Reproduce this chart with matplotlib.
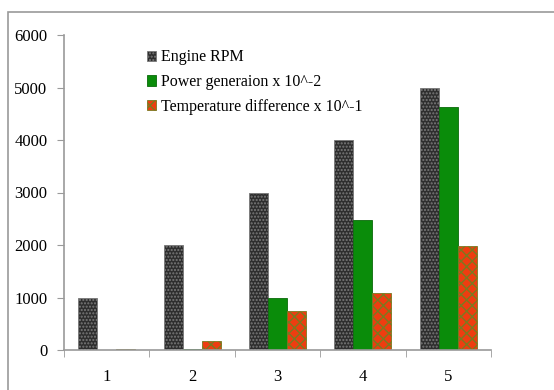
import numpy as np
import matplotlib.pyplot as plt
from matplotlib.patches import Rectangle

categories = ['1', '2', '3', '4', '5']
engine_rpm = [1000, 2000, 3000, 4000, 5000]
power_gen = [0, 20, 990, 2480, 4620]
temp_diff = [25, 175, 750, 1090, 1990]
labels = ['Engine RPM', 'Power generaion x 10^-2', 'Temperature difference x 10^-1']

plt.rcParams['font.family'] = ['Liberation Serif', 'DejaVu Serif']
plt.rcParams['hatch.linewidth'] = 1.0

fig = plt.figure(figsize=(5.54, 3.90), dpi=100)
ax = fig.add_axes([64 / 554, 1 - 350 / 390, 427 / 554, 315 / 390])

# frame round the whole chart (right and bottom edges fall outside the picture)
fig.patches.append(Rectangle((8 / 554, -0.1), 1.2, 1.1 - 12 / 390, transform=fig.transFigure,
                             fill=False, edgecolor='#9a9a9a', linewidth=1.2))

x = np.arange(len(categories))
w = 0.222
b1 = ax.bar(x - w, engine_rpm, w, color='#2e2e2e', edgecolor='#7a7a7a', hatch='.....',
            linewidth=0.6, label=labels[0])
b2 = ax.bar(x, power_gen, w, color='#0a8c0a', edgecolor='#0a6a0a',
            linewidth=0.6, label=labels[1])
b3 = ax.bar(x + w, temp_diff, w, color='#ee3d10', edgecolor='#7a7a20', hatch='xxx',
            linewidth=0.6, label=labels[2])

ax.set_xlim(-0.5, len(categories) - 0.5)
ax.set_ylim(0, 6000)
ax.set_yticks(range(0, 6001, 1000))
ax.set_xticks(x)
ax.set_xticklabels(categories)
ax.set_xticks(np.arange(-0.5, len(categories)), minor=True)
ax.tick_params(axis='x', which='major', length=0, pad=14, labelsize=12)
ax.tick_params(axis='x', which='minor', length=5, color='#9a9a9a', direction='out')
ax.tick_params(axis='y', length=5, color='#9a9a9a', labelsize=12, pad=7)

for s in ['top', 'right']:
    ax.spines[s].set_visible(False)
for s in ['left', 'bottom']:
    ax.spines[s].set_color('#9a9a9a')
    ax.spines[s].set_linewidth(1.2)

ax.legend(loc='upper left', bbox_to_anchor=(0.16, 1.0), frameon=False, fontsize=11.5,
          handlelength=0.6, handleheight=0.6, handletextpad=0.3, labelspacing=0.55)

fig.savefig('out.png', dpi=100)
